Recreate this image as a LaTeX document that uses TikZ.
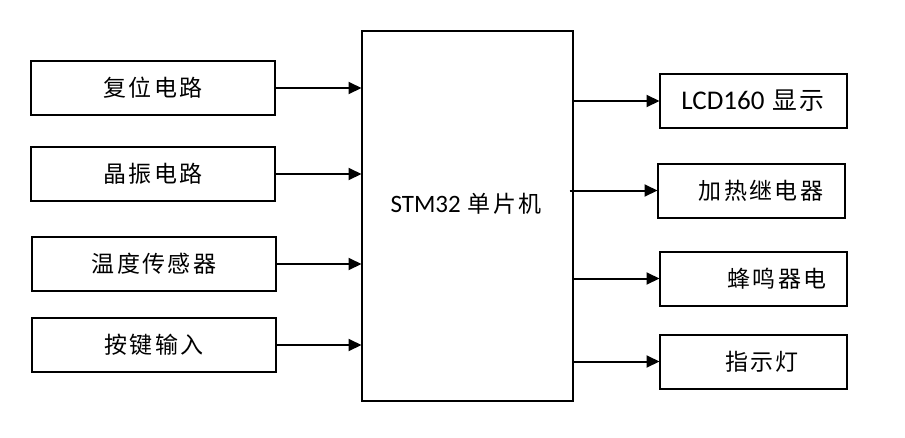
\documentclass[tikz,border=0pt]{standalone}
\usepackage{fontspec}
\setmainfont{Carlito}
\newfontfamily\cjk[LetterSpace=10,Scale=0.92]{Noto Sans CJK SC}
\usetikzlibrary{arrows.meta}
\tikzset{
  blk/.style={draw=black, line width=2pt, rectangle, outer sep=0pt, inner sep=0pt,
    font=\fontsize{25}{30}\selectfont},
  lbox/.style={blk, minimum width=244pt, minimum height=54pt},
  rbox/.style={blk, minimum width=187pt, minimum height=54pt},
  conn/.style={line width=2pt, -{Triangle[length=13pt,width=12pt]}},
  txt/.style={inner sep=0pt, font=\fontsize{25}{30}\selectfont}
}
\begin{document}
\begin{tikzpicture}[x=1pt,y=-1pt]
\useasboundingbox (0,0) rectangle (905,437);
% central MCU
\node[blk, minimum width=211pt, minimum height=370pt] (mcu) at (467,216) {};
\node[txt] (mcut) at (466,204) {STM32\hspace{7pt}{\cjk 单片机}};
% left boxes
\node[lbox] (l1) at (153,88) {\cjk 复位电路};
\node[lbox] (l2) at (153,174) {\cjk 晶振电路};
\node[lbox] (l3) at (154,264) {\cjk 温度传感器};
\node[lbox] (l4) at (154,345) {\cjk 按键输入};
% right boxes
\node[rbox] (r1) at (753,101) {\fontsize{27}{30}\selectfont LCD160\hspace{8pt}{\cjk 显示}};
\node[rbox] (r2) at (751,190.5) {\hspace*{20pt}{\cjk 加热继电器}};
\node[rbox] (r3) at (753,278.5) {\hspace*{48pt}{\cjk 蜂鸣器电}};
\node[rbox] (r4) at (753,361.5) {\hspace*{18pt}{\cjk 指示灯}};
% connectors
\foreach \n in {l1,l2,l3,l4}
  \draw[conn] (\n.east) -- (\n.east -| mcu.west);
\foreach \n in {r1,r3,r4}
  \draw[conn] (mcu.east |- \n.west) -- (\n.west);
\draw[conn] ([xshift=-3pt]mcu.east |- r2.west) -- (r2.west);
\end{tikzpicture}
\end{document}
